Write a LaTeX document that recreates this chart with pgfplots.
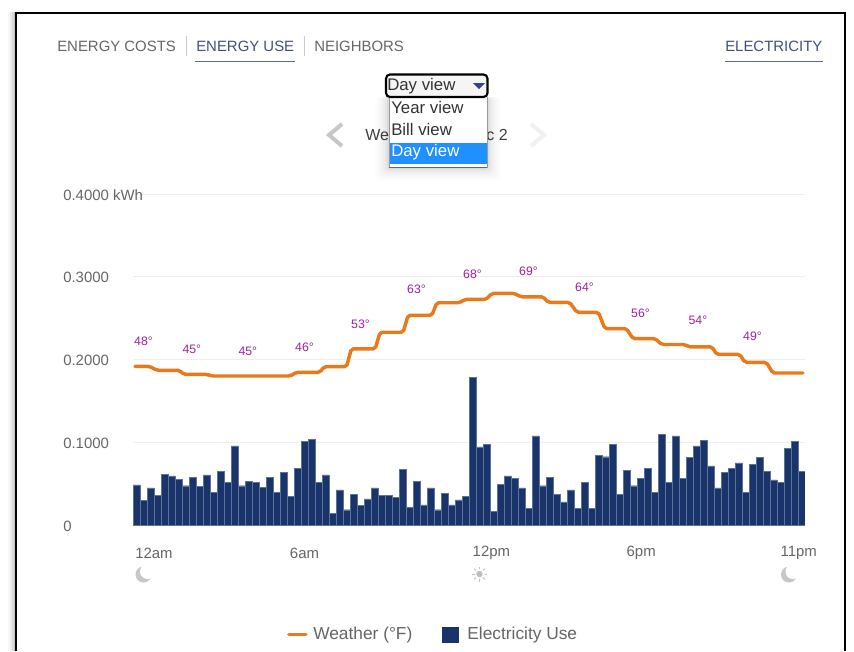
\documentclass[border=0pt]{standalone}
\usepackage{fontspec}
\setmainfont{Liberation Sans}
\usepackage{pgfplots}
\usepackage{pgfplotstable}
\pgfplotsset{compat=1.18}
\definecolor{navy}{HTML}{19346A}
\definecolor{bar}{HTML}{19346A}
\definecolor{orangeline}{HTML}{E87A1C}
\definecolor{tempc}{HTML}{A0209F}
\definecolor{ticktext}{HTML}{666666}
\definecolor{tabblue}{HTML}{414F7E}
\definecolor{tabline}{HTML}{5A689F}
\definecolor{gridc}{HTML}{EEEEEE}
\definecolor{selc}{HTML}{1E90FF}

\pgfplotstableread{
x y
0.5 0.049
1.5 0.030
2.5 0.0455
3.5 0.036
4.5 0.062
5.5 0.060
6.5 0.056
7.5 0.048
8.5 0.058
9.5 0.047
10.5 0.061
11.5 0.040
12.5 0.065
13.5 0.052
14.5 0.096
15.5 0.048
16.5 0.053
17.5 0.052
18.5 0.046
19.5 0.058
20.5 0.040
21.5 0.064
22.5 0.035
23.5 0.069
24.5 0.1016
25.5 0.104
26.5 0.052
27.5 0.061
28.5 0.015
29.5 0.043
30.5 0.019
31.5 0.0375
32.5 0.0246
33.5 0.032
34.5 0.0455
35.5 0.036
36.5 0.036
37.5 0.034
38.5 0.068
39.5 0.022
40.5 0.053
41.5 0.025
42.5 0.0455
43.5 0.019
44.5 0.039
45.5 0.025
46.5 0.031
47.5 0.035
48.5 0.179
49.5 0.095
50.5 0.0976
51.5 0.017
52.5 0.0496
53.5 0.060
54.5 0.057
55.5 0.0455
56.5 0.0205
57.5 0.108
58.5 0.048
59.5 0.058
60.5 0.0375
61.5 0.0286
62.5 0.043
63.5 0.0205
64.5 0.052
65.5 0.0205
66.5 0.0847
67.5 0.083
68.5 0.0976
69.5 0.0375
70.5 0.0665
71.5 0.048
72.5 0.057
73.5 0.069
74.5 0.040
75.5 0.1097
76.5 0.052
77.5 0.108
78.5 0.057
79.5 0.082
80.5 0.096
81.5 0.103
82.5 0.072
83.5 0.0455
84.5 0.064
85.5 0.069
86.5 0.0754
87.5 0.040
88.5 0.074
89.5 0.082
90.5 0.065
91.5 0.055
92.5 0.052
93.5 0.093
94.5 0.1016
95.5 0.065
}\usedata

\pgfplotstableread{
x y
0.3 0.192
2.4 0.192
3.4 0.1872
6.7 0.1872
7.2 0.1824
10.6 0.1824
11.2 0.1804
22.5 0.1804
23.3 0.1848
26.7 0.1848
27.3 0.1916
30.5 0.1916
31.2 0.2132
34.6 0.2132
35.3 0.2332
38.6 0.2332
39.3 0.2536
42.7 0.2536
43.4 0.2688
46.7 0.2688
47.4 0.2728
50.5 0.2728
51.2 0.28
54.6 0.28
55.3 0.276
58.6 0.276
59.3 0.2692
62.4 0.2692
63.4 0.2572
66.5 0.2572
67.4 0.2376
70.5 0.2376
71.4 0.2256
74.6 0.2256
75.5 0.2184
78.9 0.2184
79.3 0.2156
82.7 0.2156
83.4 0.2064
86.7 0.2064
87.4 0.1968
90.5 0.1968
91.4 0.184
95.7 0.184
}\weatherdata

\pgfplotstableread{
x y label
1.5 0.2224 48°
8.4 0.2128 45°
16.4 0.2104 45°
24.5 0.2152 46°
32.5 0.2430 53°
40.5 0.2852 63°
48.5 0.3034 68°
56.5 0.3070 69°
64.5 0.2876 64°
72.5 0.2562 56°
80.7 0.2477 54°
88.5 0.2284 49°
}\templabels

\begin{document}
\begin{tikzpicture}
\useasboundingbox (0pt,0pt) rectangle (640.5pt,-488.25pt);
% frame
\begin{scope}[x=0.75pt,y=-0.75pt]
\foreach \o/\a in {7/0.03,5/0.05,3/0.07,1.5/0.10}{
  \fill[black,opacity=\a] (15-\o,12) rectangle (15,651);
}
\fill[white] (15,12) rectangle (845,651);
\draw[black,line width=1.5pt] (15.5,651) -- (15.5,12.5) -- (844.5,12.5) -- (844.5,651);
\end{scope}

\begin{axis}[
  at={(99.75pt,-394.1pt)}, anchor=origin,
  scale only axis, width=504pt, height=248.6pt,
  xmin=0, xmax=96, ymin=0, ymax=0.4,
  axis line style={draw=none}, tick style={draw=none},
  ytick={0,0.1,0.2,0.3,0.4},
  yticklabels={0,0.1000,0.2000,0.3000,0.4000 kWh},
  xtick={3,24.5,51.2,72.6,95.1},
  xticklabels={12am,6am,12pm,6pm,11pm},
  ymajorgrids, major grid style={gridc,line width=0.75pt},
  tick label style={font=\fontsize{11.2}{13}\selectfont,text=ticktext},
  yticklabel style={anchor=west,xshift=-52.5pt,yshift=-0.6pt,inner sep=0pt},
  xticklabel style={anchor=center,yshift=-20.75pt,inner sep=0pt},
  legend columns=2,
  legend cell align=left,
  legend style={at={(0.229,-0.3285)},anchor=west,draw=none,fill=none,inner sep=0pt,
    font=\fontsize{13}{15}\selectfont,text=ticktext,
    /tikz/every even column/.append style={column sep=20.5pt}},
]
\addplot[orangeline,line width=2.6pt,line join=round,line cap=round,rounded corners=1.5pt,
  legend image code/.code={\draw[orangeline,line width=2.6pt] (0pt,0pt) -- (12.75pt,0pt);\path (15pt,0pt);}]
  table[x=x,y=y]{\weatherdata};
\addlegendentry{Weather (°F)}
\addplot[ybar,bar shift=0pt,bar width=4.9pt,fill=bar,draw=bar!70!white,line width=0.25pt,
  legend image code/.code={\fill[navy] (0pt,-5.6pt) rectangle (12pt,5.6pt);\path (16.5pt,0pt);}]
  table[x=x,y=y]{\usedata};
\addlegendentry{Electricity Use}
\addplot[forget plot,draw=none,mark=none,nodes near coords,point meta=explicit symbolic,
  nodes near coords style={anchor=center,inner sep=0pt,text=tempc,font=\fontsize{9.2}{11}\selectfont}]
  table[x=x,y=y,meta=label]{\templabels};
\end{axis}

\begin{scope}[x=0.75pt,y=-0.75pt]
\tikzset{tab/.style={anchor=west,inner sep=0pt,font=\fontsize{11.2}{13}\selectfont}}
\node[tab,text=ticktext] at (57,46) {ENERGY COSTS};
\draw[gridc!85!black,line width=0.75pt] (186,36) -- (186,56);
\node[tab,text=tabblue] at (196,46) {ENERGY USE};
\draw[tabline,line width=1pt] (195,61.5) -- (295,61.5);
\draw[gridc!85!black,line width=0.75pt] (304,36) -- (304,56);
\node[tab,text=ticktext] at (314,46) {NEIGHBORS};
\node[tab,text=tabblue] at (725,46) {ELECTRICITY};
\draw[tabline,line width=1pt] (725,61.5) -- (823,61.5);

% date row
\node[anchor=west,inner sep=0pt,text=black!75,font=\fontsize{12}{14}\selectfont] at (365,135) {We};
\node[anchor=east,inner sep=0pt,text=black!75,font=\fontsize{12}{14}\selectfont] at (508,135) {c 2};
\draw[black!22,line width=3pt] (342,124) -- (329,135) -- (342,146);
\draw[black!6,line width=3pt] (531,124) -- (544,135) -- (531,146);

% icons
\foreach \cx in {143.5,789}{
  \fill[black!22] (\cx,574.5) circle[radius=8];
  \fill[white] (\cx+4,571.5) circle[radius=7.5];
}
\fill[black!25] (479.5,574) circle[radius=3.2];
\foreach \a in {0,45,...,315}{
  \draw[black!25,line width=0.7pt] (479.5,574) ++(\a:5) -- ++(\a:2.5);
}

% dropdown
\foreach \o/\a in {14/0.008,12/0.01,10/0.012,8/0.015,6/0.02,4/0.03,2/0.05}{
  \fill[black,opacity=\a,rounded corners=3pt] (389-\o,97) rectangle (487+\o,167+\o);
}
\fill[white] (389,97) rectangle (487,167);
\fill[selc] (390,143) rectangle (487,164);
\draw[black!40,line width=0.6pt] (389,97) -- (389,167.5);
\draw[black!40,line width=0.6pt] (487,167.5) -- (487,97);
\draw[black!60,line width=0.75pt] (389,167.5) -- (487,167.5);
\fill[black!4] (386,74) rectangle (487,97);
\draw[black,line width=1.6pt,rounded corners=3pt] (386,74.5) rectangle (487.5,97);
\fill[tabblue!85!blue] (473,83) -- (485,83) -- (479,89) -- cycle;
\tikzset{dd/.style={anchor=west,inner sep=0pt,font=\fontsize{12.6}{15}\selectfont}}
\node[dd,text=black!80] at (387,86) {Day view};
\node[dd,text=black!80] at (391,107) {Year view};
\node[dd,text=black!80] at (391,129) {Bill view};
\node[dd,text=white] at (391,152) {Day view};
\end{scope}
\end{tikzpicture}
\end{document}
